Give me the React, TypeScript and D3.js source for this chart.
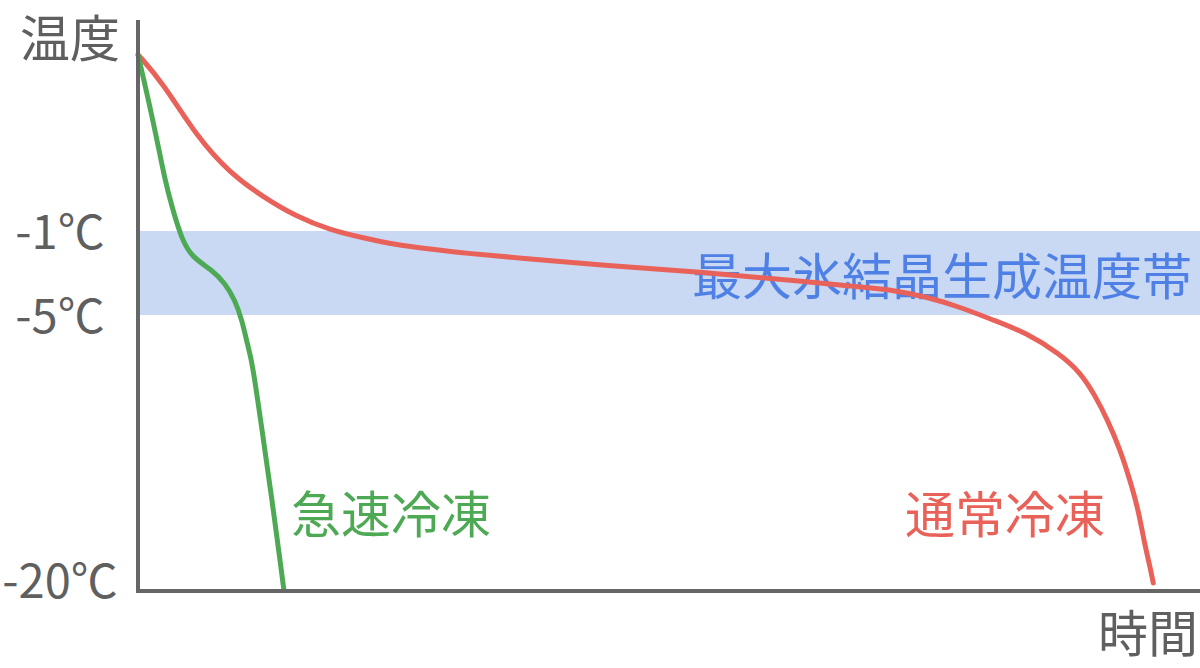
import { scaleLinear, line, curveBasis } from 'd3'

const width = 1200
const height = 668

// time (arbitrary units 0..100) vs temperature (℃)
const normalTime = [0, 2.35, 5.56, 8.66, 11.77, 14.97, 18.08, 21.19, 24.39, 27.5, 30.6, 36.9, 43.5, 52.9, 62.3, 68.0, 71.1, 74.3, 77.4, 80.5, 83.7, 86.8, 88.7, 90.1, 91.3, 92.5, 93.4, 94.2, 94.8, 95.3, 95.6]
const normalTemp = [8.2, 6.72, 3.9, 2.02, 0.77, -0.27, -0.95, -1.33, -1.67, -1.86, -2.05, -2.33, -2.62, -2.95, -3.38, -3.67, -3.81, -4.14, -4.62, -5.27, -5.98, -7.12, -8.1, -9.35, -10.71, -12.34, -13.97, -15.6, -17.5, -18.7, -19.57]

const quickTime = [0, 1.13, 1.79, 2.54, 3.2, 4.14, 5.08, 6.97, 8.19, 9.13, 9.79, 10.36, 10.73, 11.68, 12.62, 13.37, 13.75]
const quickTemp = [8.2, 5.47, 3.74, 1.66, 0.25, -1.43, -2.24, -2.86, -3.48, -4.29, -5.27, -6.74, -7.45, -11.25, -15.05, -18.32, -20]

const tickValues = [-1, -5, -20]
const tickLabels = ['-1℃', '-5℃', '-20℃']
const bandRange = [-1, -5]

const font = '"Noto Sans CJK JP", "Noto Sans", sans-serif'
const gray = '#5f5f5f'
const red = '#e9625a'
const green = '#4ea955'

const xScale = scaleLinear().domain([0, 100]).range([138, 1200])
// the picture's temperature axis is not evenly spaced
const yScale = scaleLinear().domain([10, -1, -5, -20]).range([20, 231, 315, 591])

function App() {
  const normal = normalTime.map((t, i) => [t, normalTemp[i]] as [number, number])
  const quick = quickTime.map((t, i) => [t, quickTemp[i]] as [number, number])

  const path = line<[number, number]>()
    .x(d => xScale(d[0]))
    .y(d => yScale(d[1]))
    .curve(curveBasis)

  const x0 = xScale(0)
  const xEnd = xScale(100)
  const yBottom = yScale(-20)
  const yTop = yScale(10)

  return (
    <svg width={width} height={height} style={{ position: 'absolute', left: 0, top: 0, fontFamily: font }}>
      <rect
        x={x0 + 2}
        y={yScale(bandRange[0])}
        width={xEnd - x0 - 2}
        height={yScale(bandRange[1]) - yScale(bandRange[0])}
        fill="#c9d8f3"
      />
      <text x={1192} y={yScale(-3)} textAnchor="end" dominantBaseline="central" fontSize={50} fill="#4f80e6">最大氷結晶生成温度帯</text>

      <path d={path(normal) ?? ''} fill="none" stroke={red} strokeWidth={5} strokeLinecap="round" />
      <path d={path(quick) ?? ''} fill="none" stroke={green} strokeWidth={5} />

      <line x1={x0} x2={x0} y1={yTop} y2={yBottom + 2} stroke="#666" strokeWidth={4} />
      <line x1={x0 - 2} x2={xEnd} y1={yBottom} y2={yBottom} stroke="#666" strokeWidth={4} />

      {tickValues.map((v, i) => (
        <text
          key={v}
          x={60}
          y={yScale(v)}
          dy={i === tickValues.length - 1 ? -14 : -3}
          textAnchor="middle"
          dominantBaseline="central"
          fontSize={47}
          fill={gray}
        >
          {tickLabels[i]}
        </text>
      ))}

      <text x={70} y={35} textAnchor="middle" dominantBaseline="central" fontSize={50} fill={gray}>温度</text>
      <text x={1148} y={630} textAnchor="middle" dominantBaseline="central" fontSize={50} fill={gray}>時間</text>

      <text x={291} y={511} dominantBaseline="central" fontSize={50} fill={green}>急速冷凍</text>
      <text x={905} y={511} dominantBaseline="central" fontSize={50} fill={red}>通常冷凍</text>
    </svg>
  )
}

export default App
